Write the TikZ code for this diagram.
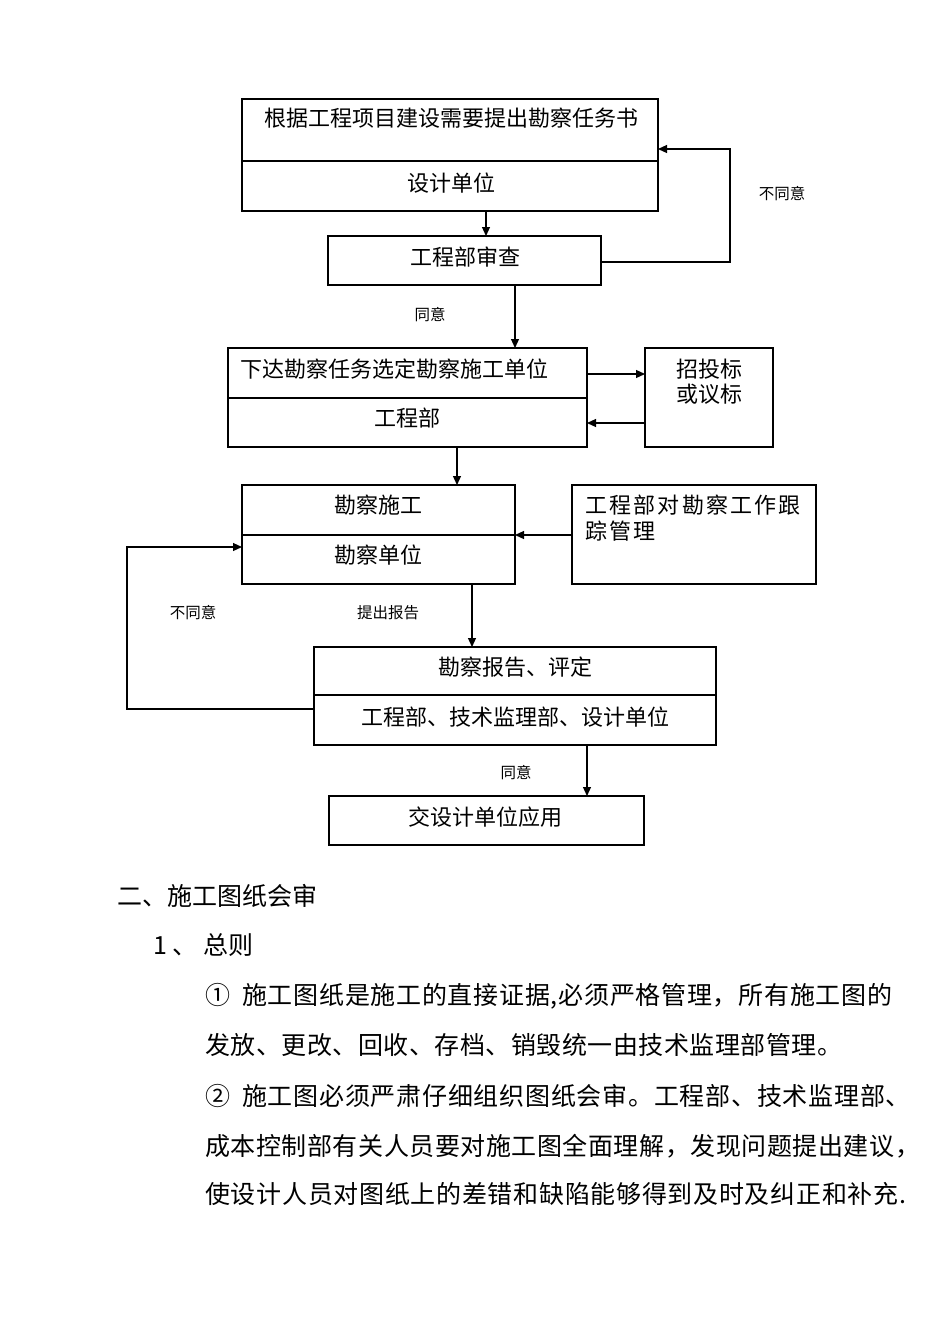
\documentclass[tikz,border=0pt]{standalone}
\usepackage{fontspec}
\newfontfamily\cjk{Noto Sans CJK SC}
\usetikzlibrary{arrows.meta}
\tikzset{
  box/.style={draw, line width=1.2pt, inner sep=0pt, outer sep=0pt},
  ln/.style={line width=1.2pt},
  arr/.style={line width=1.2pt, -{Triangle[length=9pt,width=8pt]}},
  txt/.style={inner sep=0pt, font=\cjk\fontsize{22}{26}\selectfont},
  lbl/.style={inner sep=0pt, font=\cjk\fontsize{15.5}{18}\selectfont},
  body/.style={inner sep=0pt, anchor=west, font=\cjk\fontsize{25}{30}\selectfont}
}
\begin{document}
\begin{tikzpicture}[x=1pt,y=-1pt]
\useasboundingbox[fill=white] (0,0) rectangle (950,1344);

% boxes
\node[box, minimum width=416pt, minimum height=112pt] (b1) at (450,155) {};
\node[box, minimum width=273pt, minimum height=49pt] (b2) at (464.5,260.5) {};
\node[box, minimum width=359pt, minimum height=99pt] (b3) at (407.5,397.5) {};
\node[box, minimum width=128pt, minimum height=99pt] (b3r) at (709,397.5) {};
\node[box, minimum width=273pt, minimum height=99pt] (b4) at (378.5,534.5) {};
\node[box, minimum width=244pt, minimum height=99pt] (b4r) at (694,534.5) {};
\node[box, minimum width=402pt, minimum height=98pt] (b5) at (515,696) {};
\node[box, minimum width=315pt, minimum height=49pt] (b6) at (486.5,820.5) {};

% dividers
\draw[ln] ([yshift=-6]b1.west) -- ([yshift=-6]b1.east);
\draw[ln] ([yshift=-0.5]b3.west) -- ([yshift=-0.5]b3.east);
\draw[ln] ([yshift=-0.5]b4.west) -- ([yshift=-0.5]b4.east);
\draw[ln] ([yshift=1]b5.west) -- ([yshift=1]b5.east);

% box texts
\node[txt] (t1a) at (451,118) {根据工程项目建设需要提出勘察任务书};
\node[txt] (t1b) at (451,183) {设计单位};
\node[txt] (t2) at (465,257) {工程部审查};
\node[txt, anchor=west] (t3a) at (240,369) {下达勘察任务选定勘察施工单位};
\node[txt] (t3b) at (407,418) {工程部};
\node[txt] (t3c) at (709,369) {招投标};
\node[txt] (t3d) at (709,394) {或议标};
\node[txt] (t4a) at (378,505) {勘察施工};
\node[txt] (t4b) at (378,555) {勘察单位};
\node[txt, anchor=west] (t4c) at (585,505) {\addfontfeature{LetterSpace=10}工程部对勘察工作跟};
\node[txt, anchor=west] (t4d) at (585,531) {\addfontfeature{LetterSpace=10}踪管理};
\node[txt] (t5a) at (515,667) {勘察报告、评定};
\node[txt] (t5b) at (515,717) {工程部、技术监理部、设计单位};
\node[txt] (t6) at (485,817) {交设计单位应用};

% connector labels
\node[lbl] (l1) at (782,194) {不同意};
\node[lbl] (l2) at (430,315) {同意};
\node[lbl] (l3) at (193,613) {不同意};
\node[lbl] (l4) at (388,613) {提出报告};
\node[lbl] (l5) at (516,773) {同意};

% connectors
\coordinate (c1) at (730,149);
\coordinate (c2) at (127,547);
\draw[arr] ([xshift=36]b1.south) -- ([xshift=21.5]b2.north);
\draw[arr] ([yshift=-1.5]b2.east) -| (c1) -- ([yshift=6]b1.east);
\draw[arr] ([xshift=50.5]b2.south) -- ([xshift=107.5]b3.north);
\draw[arr] ([yshift=23.5]b3.east) -- ([yshift=23.5]b3r.west);
\draw[arr] ([yshift=-25.5]b3r.west) -- ([yshift=-25.5]b3.east);
\draw[arr] ([xshift=49.5]b3.south) -- ([xshift=78.5]b4.north);
\draw[arr] ([yshift=-0.5]b4r.west) -- ([yshift=-0.5]b4.east);
\draw[arr] ([yshift=-13]b5.west) -| (c2) -- ([yshift=-12.5]b4.west);
\draw[arr] ([xshift=93.5]b4.south) -- ([xshift=-43]b5.north);
\draw[arr] ([xshift=72]b5.south) -- ([xshift=100.5]b6.north);

% body text
\node[body] (p0) at (117,896) {二、施工图纸会审};
\node[body] (p1) at (153,945) {1 、 总则};
\node[body] (p2) at (205,996) {①\kern12pt{\addfontfeature{LetterSpace=2.9}施工图纸是施工的直接证据,必须严格管理，所有施工图的}};
\node[body] (p3) at (205,1045) {\addfontfeature{LetterSpace=2}发放、更改、回收、存档、销毁统一由技术监理部管理。};
\node[body] (p4) at (205,1096) {②\kern12pt{\addfontfeature{LetterSpace=3}施工图必须严肃仔细组织图纸会审。工程部、技术监理部、}};
\node[body] (p5) at (205,1146) {\addfontfeature{LetterSpace=2.2}成本控制部有关人员要对施工图全面理解，发现问题提出建议，};
\node[body] (p6) at (205,1194) {\addfontfeature{LetterSpace=2.8}使设计人员对图纸上的差错和缺陷能够得到及时及纠正和补充.};
\end{tikzpicture}
\end{document}
